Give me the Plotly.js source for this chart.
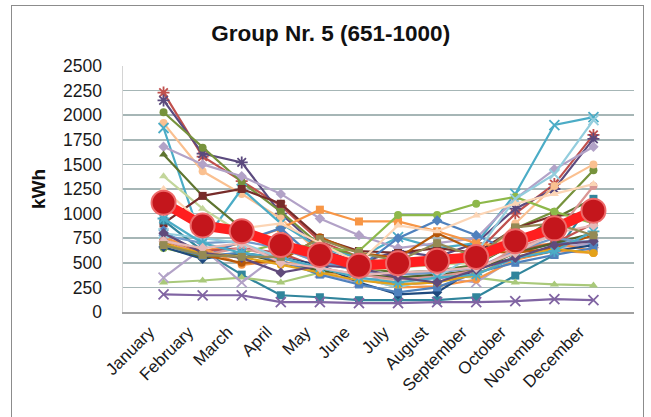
<!DOCTYPE html>
<html>
<head>
<meta charset="utf-8">
<script src="https://cdn.plot.ly/plotly-3.0.1.min.js"></script>
<style>
  html, body { margin:0; padding:0; background:#ffffff; }
  #chart { width:651px; height:417px; }
  #frame { position:absolute; left:11px; top:5px; width:631px; height:430px; border:1px solid #8c8c8c; pointer-events:none; }
</style>
</head>
<body>
<div id="chart"></div>
<div id="frame"></div>
<script>
const months = ["January","February","March","April","May","June","July","August","September","October","November","December"];
const yTicks = [0,250,500,750,1000,1250,1500,1750,2000,2250,2500];

// Monthly consumption of the individual households (kWh), Jan..Dec
const households = [
  [2230,1580,1330,1080,720,560,470,500,600,1000,1300,1800],
  [2150,1610,1520,1000,640,500,620,560,700,1050,1250,1760],
  [2030,1670,1320,1020,680,560,460,480,560,850,1020,1440],
  [1920,1430,1200,950,600,400,300,350,450,900,1280,1500],
  [1870,700,1250,900,650,550,760,650,700,1200,1900,1980],
  [1680,1500,1380,1200,950,780,650,700,750,1150,1450,1680],
  [1600,1180,850,700,550,450,400,420,480,700,950,1150],
  [1380,1050,800,650,500,420,450,480,500,700,900,1000],
  [900,1180,1250,1100,750,620,600,650,600,850,980,1000],
  [930,620,380,170,150,120,120,120,150,370,580,1150],
  [300,320,350,300,400,380,350,380,350,300,280,270],
  [180,170,170,100,100,90,90,100,100,110,130,120],
  [350,650,300,600,400,300,400,350,300,550,650,700],
  [760,620,700,850,1040,920,920,820,700,650,700,620],
  [650,560,600,700,650,620,985,985,1100,1170,1020,900],
  [830,560,720,850,500,450,750,930,780,600,700,720],
  [720,620,650,600,450,350,280,300,420,620,700,900],
  [700,650,480,520,420,350,250,260,330,530,620,600],
  [660,540,600,550,480,300,180,200,450,550,620,680],
  [700,550,600,500,420,380,350,380,420,600,700,800],
  [740,580,500,520,760,600,550,800,620,600,650,780],
  [780,700,720,650,500,420,380,400,450,620,750,700],
  [740,580,650,550,450,380,330,360,420,650,780,1280],
  [800,750,700,550,450,350,250,350,600,1150,1400,1950],
  [680,570,600,520,380,280,200,250,400,500,580,650],
  [690,600,560,480,400,320,280,300,380,560,640,600],
  [950,700,600,550,450,350,300,350,380,550,620,820],
  [800,600,550,400,470,450,350,300,430,550,680,720],
  [720,650,700,500,450,380,400,420,450,600,800,880],
  [680,580,560,560,740,600,520,700,560,860,900,780],
  [1250,900,850,900,700,500,880,820,980,1100,1200,1300]
];

// Group average (kWh)
const average = [1110,880,820,680,580,470,495,520,560,720,850,1030];

// styles (colour, marker) for each household line
const styles = [
  ["#C0504D","asterisk"],["#5B4A7E","asterisk"],["#76923C","circle"],["#FAC090","circle"],
  ["#4BACC6","x-thin"],["#B2A2C7","diamond"],["#5F7530","triangle-up"],["#C3D69B","triangle-up"],
  ["#772C2A","square"],["#31859C","square"],["#A9C97A","triangle-up"],["#8064A2","x-thin"],
  ["#B2A2C7","x-thin"],["#F79646","square"],["#8DB84A","circle"],["#4F81BD","diamond"],
  ["#C0504D","square"],["#F79646","circle"],["#1F497D","diamond"],["#4F6228","triangle-up"],
  ["#B65708","circle"],["#729ACA","diamond"],["#D99694","circle"],["#93CDDD","x-thin"],
  ["#4F81BD","square"],["#E3A21A","circle"],["#4BACC6","asterisk"],["#604A7B","diamond"],
  ["#E6B9B8","diamond"],["#948A54","square"],["#FCD5B5","triangle-up"]
];

const traces = households.map((vals, i) => {
  const [c, sym] = styles[i % styles.length];
  const lineSym = (sym === "x-thin" || sym === "asterisk");
  return {
    type: "scatter", mode: "lines+markers", x: months, y: vals,
    line: { color: c, width: 2.2 },
    marker: { symbol: sym, size: lineSym ? 10 : 8, color: c,
              line: { color: c, width: lineSym ? 1.8 : 0 } },
    hoverinfo: "skip", showlegend: false
  };
});

traces.push({
  type: "scatter", mode: "lines+markers", x: months, y: average,
  line: { color: "#FF1F1F", width: 10 },
  marker: { symbol: "circle", size: 24, color: "#C4161C", line: { color: "#EE6A6A", width: 2 } },
  hoverinfo: "skip", showlegend: false
});

const layout = {
  width: 651, height: 417,
  margin: { l: 123, r: 17, t: 66, b: 105 },
  paper_bgcolor: "#ffffff", plot_bgcolor: "#ffffff",
  font: { family: "Arial, Liberation Sans, sans-serif", color: "#1a1a1a" },
  title: { text: "<b>Group Nr. 5 (651-1000)</b>", font: { size: 22.5, color: "#111" },
           x: 0.508, xref: "container", y: 0.92, yref: "container", yanchor: "middle" },
  xaxis: {
    type: "category", tickangle: -45, tickfont: { size: 17, color: "#1a1a1a" },
    showgrid: false, showline: true, linecolor: "#a0a0a0", linewidth: 1.5,
    ticks: "", ticklabelstandoff: 2, ticklabelshift: -14
  },
  yaxis: {
    range: [0, 2500], tickvals: yTicks, ticktext: yTicks.map(String),
    tickfont: { size: 17.5, color: "#1a1a1a" },
    showgrid: true, gridcolor: "#a6b6b6", gridwidth: 1.5,
    zeroline: false, showline: true, linecolor: "#d4d4d4", linewidth: 1.5,
    ticks: "", ticklabelstandoff: 16,
    title: { text: "<b>kWh</b>", font: { size: 19, color: "#111" }, standoff: 12 }
  }
};

Plotly.newPlot("chart", traces, layout, { displayModeBar: false, staticPlot: true });
</script>
</body>
</html>
